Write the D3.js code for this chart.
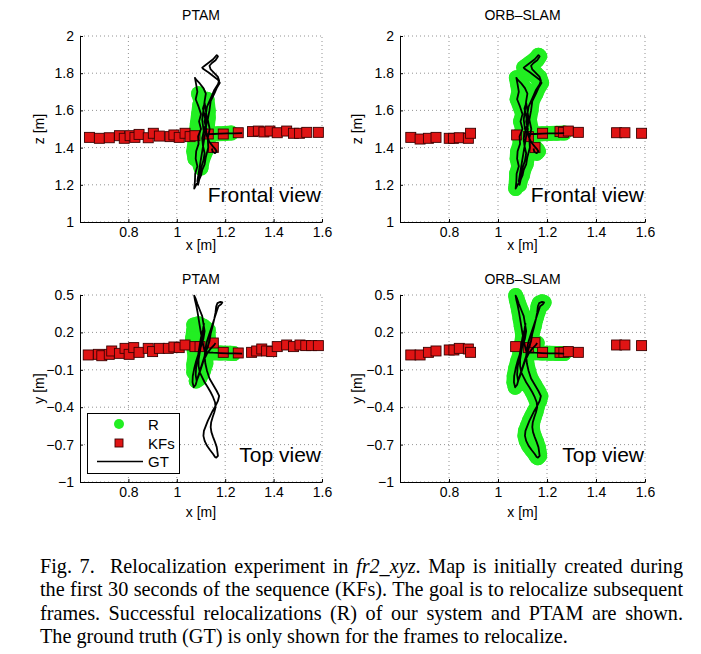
<!DOCTYPE html>
<html><head><meta charset="utf-8">
<script src="https://cdn.jsdelivr.net/npm/d3@7"></script>
<style>body{margin:0;background:#fff}svg{display:block}</style>
</head><body>
<svg id="fig" width="701" height="654"></svg>
<script>
// ---------------- data ----------------
const xTicks = [0.8, 1, 1.2, 1.4, 1.6];
const zTicks = [1, 1.2, 1.4, 1.6, 1.8, 2];
const yTicks = [-1, -0.7, -0.4, -0.1, 0.2, 0.5];
const panelTitles = ["PTAM", "ORB\u2013SLAM"];
const viewLabels = ["Frontal view", "Top view"];
const legendLabels = ["R", "KFs", "GT"];

// ground truth (x, z) frontal view
const gtFront = [
[1.27,1.478],[1.24,1.477],[1.21,1.476],[1.18,1.475],[1.15,1.473],[1.13,1.472],[1.115,1.48],
[1.11,1.50],[1.105,1.55],[1.11,1.60],[1.115,1.65],[1.12,1.69],[1.11,1.72],[1.095,1.745],[1.08,1.765],[1.075,1.775],
[1.08,1.74],[1.085,1.70],[1.078,1.66],[1.09,1.62],[1.10,1.58],[1.092,1.54],[1.10,1.50],[1.088,1.46],[1.09,1.42],[1.08,1.38],[1.078,1.34],[1.085,1.30],[1.076,1.26],[1.075,1.22],[1.072,1.18],
[1.08,1.20],[1.09,1.22],[1.10,1.25],[1.105,1.28],[1.115,1.31],[1.12,1.35],[1.13,1.40],[1.128,1.45],[1.136,1.50],[1.128,1.55],[1.135,1.60],[1.14,1.65],[1.155,1.69],[1.165,1.72],[1.178,1.748],
[1.17,1.765],[1.15,1.785],[1.13,1.805],[1.11,1.822],[1.105,1.83],[1.115,1.84],[1.13,1.855],[1.15,1.875],[1.165,1.897],[1.17,1.89],[1.16,1.87],[1.145,1.855],[1.135,1.84],[1.14,1.82],[1.155,1.80],[1.17,1.78],[1.175,1.76],[1.17,1.74],
[1.155,1.71],[1.145,1.68],[1.135,1.65],[1.125,1.62],[1.12,1.58],[1.115,1.54],[1.122,1.50],[1.115,1.46],[1.11,1.42],[1.105,1.38],[1.10,1.34],[1.095,1.30],[1.09,1.26],[1.085,1.22],[1.088,1.20],
[1.095,1.24],[1.10,1.29],[1.11,1.33],[1.115,1.37],[1.108,1.41],[1.105,1.45],[1.112,1.49],[1.12,1.53],[1.115,1.57],[1.108,1.61],[1.115,1.64],
[1.12,1.60],[1.125,1.55],[1.12,1.50],[1.125,1.46],[1.135,1.43],[1.15,1.405],[1.16,1.39],[1.165,1.38],[1.158,1.37],[1.148,1.378],[1.145,1.395]
];
// ground truth (x, y) top view
const gtTop = [
[1.27,0.03],[1.24,0.031],[1.21,0.032],[1.18,0.034],[1.15,0.037],[1.13,0.04],[1.115,0.05],
[1.11,0.09],[1.105,0.14],[1.10,0.19],[1.095,0.25],[1.09,0.31],[1.085,0.37],[1.08,0.42],[1.075,0.46],[1.072,0.495],
[1.078,0.47],[1.085,0.43],[1.095,0.38],[1.105,0.33],[1.11,0.27],[1.115,0.21],[1.11,0.15],[1.10,0.09],[1.09,0.03],[1.08,-0.03],[1.072,-0.09],[1.066,-0.15],[1.065,-0.20],[1.07,-0.24],[1.078,-0.22],
[1.085,-0.17],[1.095,-0.11],[1.105,-0.05],[1.115,0.01],[1.125,0.07],[1.135,0.13],[1.14,0.19],[1.148,0.25],[1.155,0.31],[1.16,0.36],[1.163,0.41],[1.168,0.435],[1.18,0.445],[1.188,0.44],[1.183,0.425],[1.172,0.41],
[1.165,0.37],[1.155,0.31],[1.145,0.25],[1.135,0.19],[1.125,0.13],[1.118,0.07],[1.115,0.01],[1.118,-0.05],[1.125,-0.11],[1.135,-0.17],[1.15,-0.22],[1.165,-0.27],[1.175,-0.31],[1.17,-0.35],[1.16,-0.39],[1.148,-0.43],[1.138,-0.47],[1.128,-0.51],[1.12,-0.55],[1.112,-0.59],[1.11,-0.63],[1.115,-0.67],[1.125,-0.71],[1.138,-0.745],[1.15,-0.775],[1.158,-0.80],[1.163,-0.805],[1.17,-0.79],[1.168,-0.76],[1.165,-0.72],[1.158,-0.68],[1.15,-0.64],[1.143,-0.60],[1.14,-0.56],[1.142,-0.52],[1.148,-0.48],[1.155,-0.44],[1.16,-0.40],[1.158,-0.36],[1.15,-0.32],[1.14,-0.28],[1.128,-0.24],[1.115,-0.20],[1.105,-0.16],[1.095,-0.12],[1.09,-0.07],[1.09,-0.02],[1.095,0.04],[1.10,0.10],[1.105,0.16],[1.11,0.22],[1.112,0.27],
[1.108,0.22],[1.10,0.16],[1.095,0.10],[1.09,0.04],[1.085,-0.02],[1.08,-0.08],[1.078,-0.14],[1.082,-0.19],[1.09,-0.15],[1.10,-0.09],[1.11,-0.03],[1.125,0.03],[1.14,0.07],[1.155,0.10],[1.16,0.115]
];

// PTAM successful relocalizations
const ptamRFront = [
[1.09,1.69],[1.10,1.65],[1.105,1.60],[1.11,1.55],[1.12,1.50],[1.115,1.45],[1.10,1.40],[1.085,1.36],[1.075,1.34],[1.07,1.38],
[1.075,1.43],[1.08,1.48],[1.085,1.53],[1.09,1.58],[1.095,1.63],[1.11,1.66],[1.125,1.66],[1.13,1.60],[1.13,1.56],[1.125,1.50],[1.13,1.44],
[1.12,1.38],[1.105,1.33],[1.10,1.29],[1.095,1.31],[1.09,1.35],[1.10,1.45],[1.14,1.472],[1.17,1.474],[1.20,1.476],[1.225,1.478]
];
const ptamRTop = [
[1.07,0.26],[1.09,0.27],[1.11,0.25],[1.13,0.22],[1.13,0.16],[1.125,0.10],[1.12,0.04],[1.11,-0.02],[1.10,-0.08],[1.09,-0.14],
[1.08,-0.19],[1.095,-0.17],[1.11,-0.11],[1.12,-0.05],[1.12,0.01],[1.11,0.07],[1.09,0.12],[1.075,0.17],[1.07,0.22],[1.065,0.15],
[1.07,0.08],[1.075,0.01],[1.07,-0.06],[1.07,-0.12],[1.10,0.03],[1.14,0.036],[1.18,0.034],[1.22,0.032],[1.235,0.03]
];
// ORB-SLAM relocalized every frame to relocalize
const orbRFront = gtFront;
const orbRTop = gtTop;

// keyframes
const ptamKFFront = [
[0.639,1.455],[0.68,1.45],[0.721,1.453],[0.763,1.464],[0.783,1.45],[0.807,1.464],[0.827,1.455],[0.844,1.471],[0.882,1.453],[0.903,1.477],
[0.928,1.462],[0.972,1.459],[0.988,1.468],[1.01,1.455],[1.034,1.477],[1.055,1.459],[1.075,1.464],[1.13,1.473],[1.151,1.401],[1.192,1.473],
[1.254,1.48],[1.313,1.486],[1.337,1.489],[1.36,1.484],[1.385,1.489],[1.415,1.48],[1.454,1.489],[1.482,1.477],[1.507,1.477],[1.537,1.482],[1.585,1.482]
];
const orbKFFront = [
[0.644,1.455],[0.682,1.446],[0.716,1.45],[0.747,1.455],[0.801,1.45],[0.818,1.45],[0.842,1.453],[0.879,1.45],[0.888,1.477],
[1.076,1.468],[1.124,1.459],[1.151,1.40],[1.182,1.477],[1.253,1.486],[1.267,1.482],[1.287,1.489],[1.328,1.482],[1.484,1.48],[1.518,1.48],[1.586,1.477]
];
const ptamKFTop = [
[0.634,0.019],[0.676,0.024],[0.69,0.013],[0.721,0.024],[0.731,0.051],[0.763,0.032],[0.786,0.072],[0.803,0.024],[0.822,0.078],[0.844,0.04],
[0.882,0.072],[0.90,0.046],[0.928,0.072],[0.965,0.072],[0.988,0.083],[1.01,0.078],[1.034,0.099],[1.075,0.086],[1.096,0.086],[1.151,0.115],
[1.192,0.04],[1.254,0.035],[1.309,0.04],[1.33,0.051],[1.351,0.067],[1.371,0.051],[1.392,0.046],[1.415,0.086],[1.454,0.099],[1.482,0.086],
[1.509,0.099],[1.533,0.094],[1.557,0.094],[1.585,0.094]
];
const orbKFTop = [
[0.644,0.019],[0.682,0.019],[0.716,0.04],[0.747,0.051],[0.801,0.059],[0.82,0.059],[0.842,0.072],[0.879,0.067],[0.888,0.04],
[1.072,0.086],[1.124,0.078],[1.151,0.118],[1.182,0.04],[1.253,0.04],[1.269,0.04],[1.287,0.046],[1.328,0.04],[1.484,0.099],[1.518,0.099],[1.586,0.094]
];

// ---------------- drawing ----------------
const svg = d3.select("#fig");
svg.append("rect").attr("width",701).attr("height",654).attr("fill","#fff");

const GREEN = "#22ee22", RED = "#e01414", KFEDGE = "#3a0000";
const sansFont = "'Liberation Sans', Arial, Helvetica, sans-serif";
const fmt = d3.format("~g");

const panels = [
  {xr:[80,322], yr:[222,36], dom:[1,2], ticks:zTicks, title:panelTitles[0], titleY:20, xlabY:250, ylab:"z [m]", ylabX:44, R:ptamRFront, KF:ptamKFFront, GT:gtFront, view:viewLabels[0], viewY:202},
  {xr:[400,645], yr:[222,36], dom:[1,2], ticks:zTicks, title:panelTitles[1], titleY:20, xlabY:250, ylab:"z [m]", ylabX:362, R:orbRFront, KF:orbKFFront, GT:gtFront, view:viewLabels[0], viewY:202},
  {xr:[80,322], yr:[482,295], dom:[-1,0.5], ticks:yTicks, title:panelTitles[0], titleY:284, xlabY:517, ylab:"y [m]", ylabX:44, R:ptamRTop, KF:ptamKFTop, GT:gtTop, view:viewLabels[1], viewY:462, legend:true},
  {xr:[400,645], yr:[482,295], dom:[-1,0.5], ticks:yTicks, title:panelTitles[1], titleY:284, xlabY:517, ylab:"y [m]", ylabX:362, R:orbRTop, KF:orbKFTop, GT:gtTop, view:viewLabels[1], viewY:462}
];

panels.forEach(p => {
  const x = d3.scaleLinear().domain([0.6,1.6]).range(p.xr);
  const y = d3.scaleLinear().domain(p.dom).range(p.yr);
  const g = svg.append("g");

  // grid
  g.append("g").selectAll("line").data(xTicks).join("line")
    .attr("x1",d=>x(d)).attr("x2",d=>x(d)).attr("y1",p.yr[0]).attr("y2",p.yr[1])
    .attr("stroke","#777").attr("stroke-width",0.8).attr("stroke-dasharray","1,3");
  g.append("g").selectAll("line").data(p.ticks).join("line")
    .attr("x1",p.xr[0]).attr("x2",p.xr[1]).attr("y1",d=>y(d)).attr("y2",d=>y(d))
    .attr("stroke","#777").attr("stroke-width",0.8).attr("stroke-dasharray","1,3");

  // R: relocalizations
  const line = d3.line().x(d=>x(d[0])).y(d=>y(d[1]));
  g.append("path").datum(p.R).attr("d",line).attr("fill","none")
    .attr("stroke",GREEN).attr("stroke-width",15).attr("stroke-linejoin","round").attr("stroke-linecap","round");
  g.append("g").selectAll("circle").data(p.R).join("circle")
    .attr("cx",d=>x(d[0])).attr("cy",d=>y(d[1])).attr("r",7.5).attr("fill",GREEN);

  // KFs
  g.append("g").selectAll("rect").data(p.KF).join("rect")
    .attr("x",d=>x(d[0])-5).attr("y",d=>y(d[1])-5).attr("width",10).attr("height",10)
    .attr("fill",RED).attr("stroke",KFEDGE).attr("stroke-width",0.9);

  // GT
  g.append("path").datum(p.GT).attr("d",line).attr("fill","none")
    .attr("stroke","#000").attr("stroke-width",1.8).attr("stroke-linejoin","round");

  // axes
  const ax = g.append("g").attr("transform",`translate(0,${p.yr[0]})`)
    .call(d3.axisBottom(x).tickValues(xTicks).tickFormat(fmt).tickSizeInner(-3).tickSizeOuter(0).tickPadding(5));
  const ay = g.append("g").attr("transform",`translate(${p.xr[0]},0)`)
    .call(d3.axisLeft(y).tickValues(p.ticks).tickFormat(fmt).tickSizeInner(-3).tickSizeOuter(0).tickPadding(6));
  [ax,ay].forEach(a => {
    a.select(".domain").attr("stroke","#000").attr("stroke-width",1);
    a.selectAll(".tick line").attr("stroke","#000");
    a.selectAll("text").attr("font-family",sansFont).attr("font-size",14).attr("fill","#000");
  });

  // labels
  const cx = (p.xr[0]+p.xr[1])/2;
  g.append("text").attr("x",cx).attr("y",p.titleY).attr("text-anchor","middle")
    .attr("font-family",sansFont).attr("font-size",14).text(p.title);
  g.append("text").attr("x",cx).attr("y",p.xlabY).attr("text-anchor","middle")
    .attr("font-family",sansFont).attr("font-size",14).text("x [m]");
  const cy = (p.yr[0]+p.yr[1])/2;
  g.append("text").attr("transform",`translate(${p.ylabX},${cy}) rotate(-90)`).attr("text-anchor","middle")
    .attr("font-family",sansFont).attr("font-size",14).text(p.ylab);
  g.append("text").attr("x",p.xr[1]-1).attr("y",p.viewY).attr("text-anchor","end")
    .attr("font-family",sansFont).attr("font-size",21).text(p.view);

  if (p.legend) {
    const lg = g.append("g");
    lg.append("rect").attr("x",87.5).attr("y",413.5).attr("width",92).attr("height",60)
      .attr("fill","#fff").attr("stroke","#000").attr("stroke-width",1);
    lg.append("circle").attr("cx",119).attr("cy",424).attr("r",5).attr("fill",GREEN);
    lg.append("rect").attr("x",115).attr("y",439).attr("width",8).attr("height",8)
      .attr("fill",RED).attr("stroke",KFEDGE).attr("stroke-width",0.9);
    lg.append("line").attr("x1",97).attr("x2",143).attr("y1",461.5).attr("y2",461.5)
      .attr("stroke","#000").attr("stroke-width",1.5);
    legendLabels.forEach((t,i) => {
      lg.append("text").attr("x",148).attr("y",[429.5,448.5,467][i])
        .attr("font-family",sansFont).attr("font-size",15).text(t);
    });
  }
});

// ---------------- caption ----------------
const capFont = "'Liberation Serif', 'Times New Roman', Times, serif";
const capLines = [
  [["Fig. 7.  Relocalization experiment in ",false],["fr2_xyz",true],[". Map is initially created during",false]],
  [["the first 30 seconds of the sequence (KFs). The goal is to relocalize subsequent",false]],
  [["frames. Successful relocalizations (R) of our system and PTAM are shown.",false]],
  [["The ground truth (GT) is only shown for the frames to relocalize.",false]]
];
const capX0 = 40, capX1 = 683, capY0 = 573, capDy = 23.3;
// size the serif font so that the densest line just fills the column
const probe = svg.append("text").attr("font-family",capFont).attr("font-size",18).style("white-space","pre")
  .text(capLines[1][0][0]);
const capFs = 18 * (capX1 - capX0 - 4) / probe.node().getComputedTextLength();
probe.remove();
capLines.forEach((parts,i) => {
  const t = svg.append("text").attr("x",capX0).attr("y",capY0 + i*capDy)
    .attr("font-family",capFont).attr("font-size",capFs).style("white-space","pre");
  parts.forEach(([s,it]) => t.append("tspan").attr("font-style", it ? "italic" : "normal").text(s));
  if (i < capLines.length-1) {
    const len = t.node().getComputedTextLength();
    const spaces = parts.map(d=>d[0]).join("").split(" ").length - 1;
    const ws = (capX1 - capX0 - len) / spaces;
    t.attr("word-spacing", ws);
  }
});
</script>
</body></html>
